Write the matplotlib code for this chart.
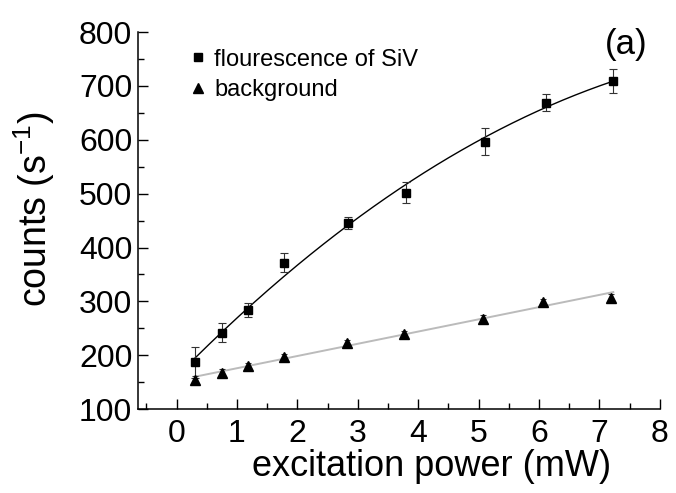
import numpy as np
import matplotlib
matplotlib.use("Agg")
import matplotlib.pyplot as plt
from matplotlib.lines import Line2D

plt.rcParams['font.family'] = ['Liberation Sans', 'DejaVu Sans']
plt.rcParams['mathtext.fontset'] = 'custom'
plt.rcParams['mathtext.rm'] = 'Liberation Sans'

# --- data ---
power_siv = [0.30, 0.76, 1.19, 1.78, 2.84, 3.80, 5.10, 6.11, 7.23]
counts_siv = [187, 242, 284, 372, 445, 502, 596, 669, 709]
err_siv = [29, 18, 13, 18, 11, 19, 25, 16, 22]

power_bg = [0.30, 0.76, 1.19, 1.78, 2.82, 3.77, 5.08, 6.07, 7.19]
counts_bg = [155, 168, 180, 197, 223, 240, 268, 299, 307]
err_bg = [7, 6, 5, 5, 6, 6, 6, 5, 6]

x_ticks = [0, 1, 2, 3, 4, 5, 6, 7, 8]
y_ticks = [100, 200, 300, 400, 500, 600, 700, 800]

fig = plt.figure(figsize=(6.76, 4.93), dpi=100)
ax = fig.add_axes([0.204, 0.170, 0.772, 0.765])

# fits (quadratic for SiV, linear for background)
xf = np.linspace(min(power_siv), max(power_siv), 200)
p_siv = np.polyfit(power_siv, counts_siv, 2)
p_bg = np.polyfit(power_bg, counts_bg, 1)
ax.plot(xf, np.polyval(p_siv, xf), color='black', lw=1.0, zorder=2)
ax.plot(xf, np.polyval(p_bg, xf), color='#bbbbbb', lw=1.4, zorder=1)

ax.errorbar(power_siv, counts_siv, yerr=err_siv, fmt='s', color='black',
            ms=6, capsize=3, elinewidth=0.8, capthick=0.8, ecolor='#333333',
            zorder=3)
ax.errorbar(power_bg, counts_bg, yerr=err_bg, fmt='^', color='black',
            ms=6.5, capsize=2.5, elinewidth=0.8, capthick=0.8, ecolor='#333333',
            zorder=3)

ax.set_xlim(-0.64, 8)
ax.set_ylim(100, 800)
ax.set_xticks(x_ticks)
ax.set_yticks(y_ticks)
ax.set_xticks(np.arange(-0.5, 8, 0.5), minor=True)
ax.set_yticks(np.arange(100, 800, 50), minor=True)
ax.tick_params(which='both', direction='in', labelsize=23, width=1.0)
ax.tick_params(which='major', length=7)
ax.tick_params(which='minor', length=4)
ax.tick_params(axis='x', pad=7)
ax.tick_params(axis='y', pad=4)

for s in ['top', 'right']:
    ax.spines[s].set_visible(False)
for s in ['left', 'bottom']:
    ax.spines[s].set_linewidth(1.1)

ax.set_xlabel('excitation power (mW)', fontsize=26)
ax.xaxis.set_label_coords(0.562, -0.105)
ax.xaxis.label.set_va('top')
ax.set_ylabel('counts (s$^{\\mathregular{-1}}$)', fontsize=27)
ax.yaxis.set_label_coords(-0.155, 0.53)

handles = [Line2D([], [], ls='none', marker='s', color='black', ms=6),
           Line2D([], [], ls='none', marker='^', color='black', ms=7)]
ax.legend(handles, ['flourescence of SiV', 'background'], loc='upper left',
          bbox_to_anchor=(0.065, 1.0), frameon=False, fontsize=17,
          handlelength=0.8, handletextpad=0.3, labelspacing=0.35,
          borderpad=0.2)

ax.text(0.977, 1.01, '(a)', transform=ax.transAxes, fontsize=25,
        ha='right', va='top')

fig.savefig('out.png', dpi=100)
